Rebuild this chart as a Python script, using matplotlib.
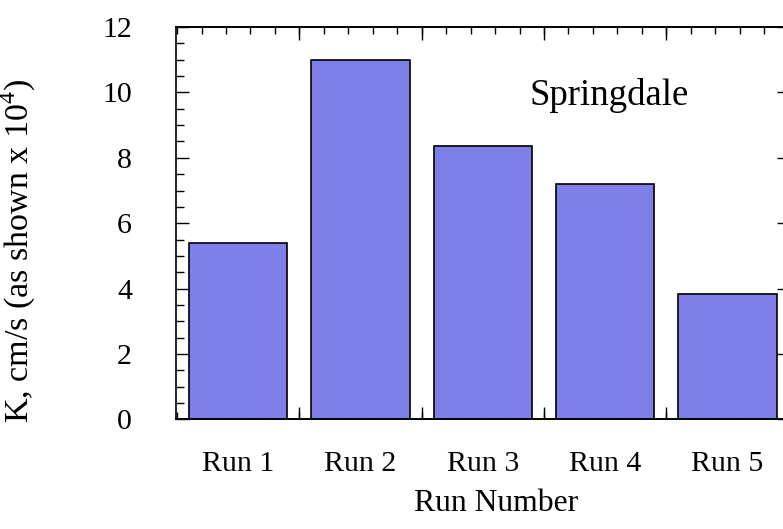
import numpy as np
import matplotlib.pyplot as plt

# -----------------------------
# Data
# -----------------------------
runs = ["Run 1", "Run 2", "Run 3", "Run 4", "Run 5"]
k_values = [5.4, 11.0, 8.35, 7.2, 3.85]
site = "Springdale"

plt.rcParams['font.family'] = ['Liberation Serif', 'DejaVu Serif']
plt.rcParams['mathtext.fontset'] = 'custom'
plt.rcParams['mathtext.rm'] = 'Liberation Serif'

positions = np.arange(1, len(runs) + 1)

fig = plt.figure(figsize=(7.83, 5.29), dpi=100)
# right edge of the frame runs slightly past the figure, as in the original
ax = fig.add_axes([0.2254, 0.207, 0.7817, 0.742])

ax.bar(positions, k_values, width=0.805, color='#7f7fea',
       edgecolor='black', linewidth=1.2, zorder=2)

ax.set_xlim(0.495, 5.5)
ax.set_ylim(0, 12)

for s in ax.spines.values():
    s.set_linewidth(1.2)

# x axis: labels at bar centres, tick marks between bars
ax.set_xticks(positions, runs)
ax.tick_params(axis='x', which='major', length=0, pad=23, labelsize=21.5)
ax.set_xticks(np.arange(0.5, 5.6, 0.2), minor=True)
ax.tick_params(axis='x', which='minor', direction='in', length=5,
               width=1, top=True, bottom=True)
for loc in ['bottom', 'top']:
    sec = ax.secondary_xaxis(loc)
    sec.set_xticks(positions[:-1] + 0.5)
    sec.tick_params(direction='in', length=9, width=1,
                    labelbottom=False, labeltop=False)
    sec.spines[loc].set_linewidth(1.2)

# y axis
ax.set_yticks(np.arange(0, 13, 2))
ax.set_yticks(np.arange(0, 12.1, 0.5), minor=True)
ax.tick_params(axis='y', which='major', direction='in', length=9, width=1,
               left=True, right=True, pad=32, labelsize=21.5)
ax.tick_params(axis='y', which='minor', direction='in', length=6, width=1,
               left=True, right=False)

ax.set_xlabel("Run Number", fontsize=22.8)
ax.set_ylabel(r"K, cm/s (as shown x 10$^{4}$)", fontsize=24.5)
ax.xaxis.set_label_coords(0.523, -0.176)
ax.yaxis.set_label_coords(-0.226, 0.43)

ax.text(4.03, 9.62, site, fontsize=26.5, ha='center', va='baseline')

plt.savefig("out.png", dpi=100)
plt.close()
